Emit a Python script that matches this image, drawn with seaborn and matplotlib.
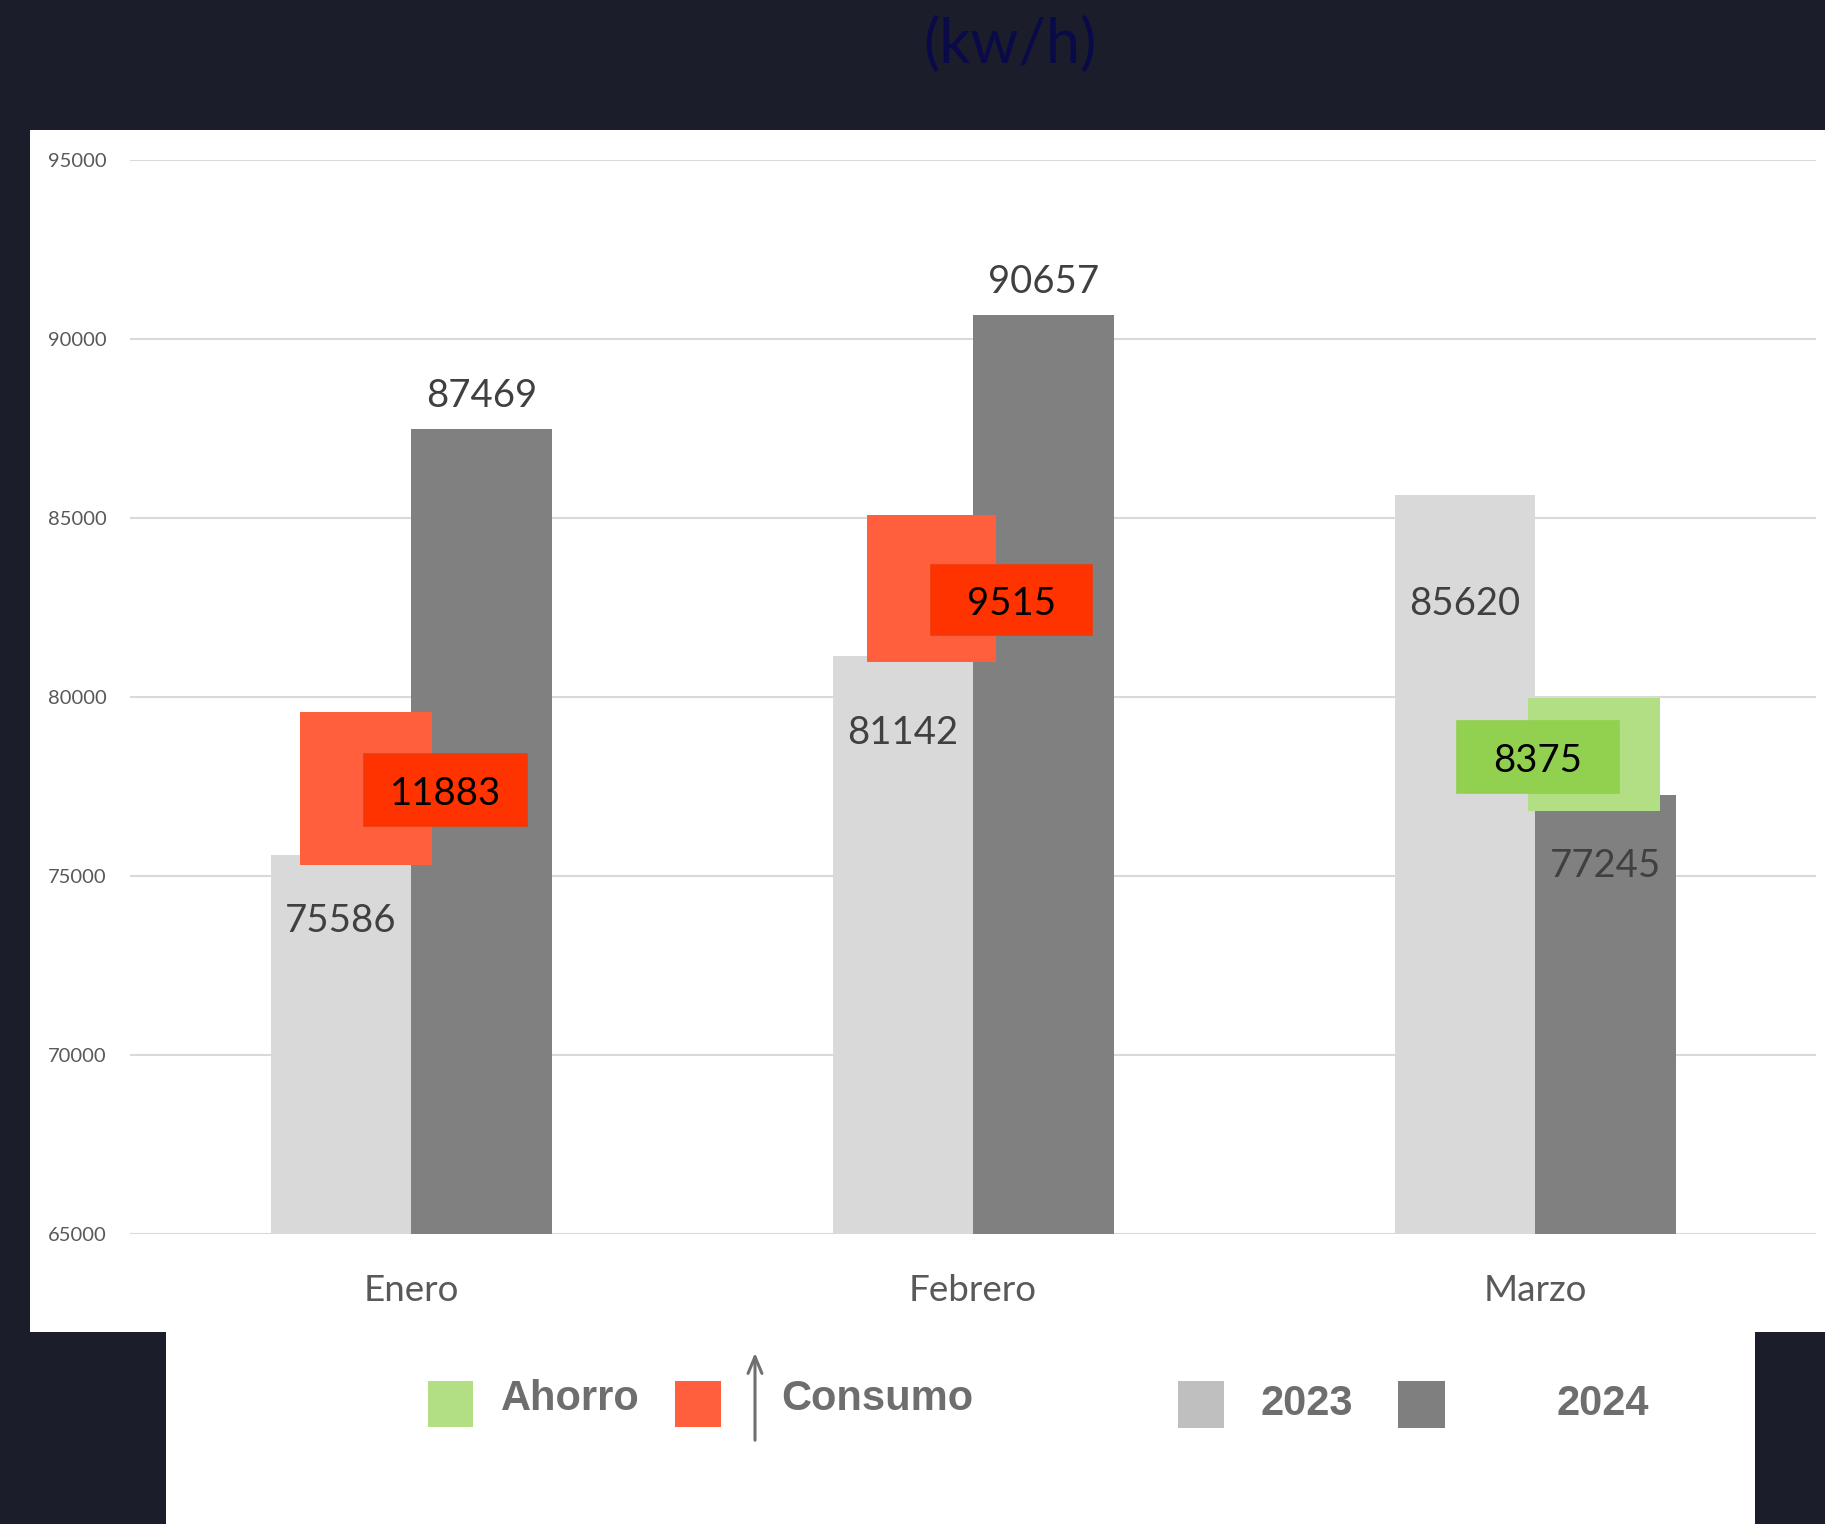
import matplotlib
matplotlib.use("Agg")
import matplotlib.pyplot as plt
from matplotlib.patches import Rectangle, FancyArrowPatch
import pandas as pd
import seaborn as sns

# --- datos ---
meses = ["Enero", "Febrero", "Marzo"]
anios = ["2023", "2024"]
consumo_2023 = [75586, 81142, 85620]
consumo_2024 = [87469, 90657, 77245]
diferencias = [11883, 9515, 8375]
tipo_diferencia = ["Consumo", "Consumo", "Ahorro"]

# --- estilo / layout ---
W, H, DPI = 1825, 1524, 100
FONDO = "#1b1d2b"
colores_barras = ["#d9d9d9", "#808080"]
colores_caja = {"Consumo": ("#ff5f3c", "#ff3300", "#f03a0a"),
                "Ahorro": ("#b3df84", "#92d050", "#92d050")}
# desplazamiento (pt) de cada etiqueta respecto al tope de su barra
desplaz = {"2023": [-48, -56, -78], "2024": [24, 24, -51]}
# cajas decorativas: (dx0, dx1, y0, y1) relativas al centro de la categoria
caja_grande = [(-0.197, 0.037, 75290, 79580),
               (-0.188, 0.041, 80974, 85065),
               (-0.012, 0.222, 76818, 79968)]
caja_chica = [(-0.084, 0.206, 76396, 78409),
              (-0.075, 0.211, 81721, 83669),
              (-0.139, 0.149, 77305, 79318)]

df = pd.DataFrame({
    "mes": meses * 2,
    "anio": [anios[0]] * len(meses) + [anios[1]] * len(meses),
    "kwh": consumo_2023 + consumo_2024,
})

sns.set_style("white")
plt.rcParams["font.family"] = ["Lato", "DejaVu Sans"]

fig = plt.figure(figsize=(W / DPI, H / DPI), dpi=DPI, facecolor=FONDO)


def fig_rect(x0, y0, x1, y1, **kw):
    """rectangulo en pixeles (origen arriba-izquierda) sobre la figura"""
    r = Rectangle((x0 / W, 1 - y1 / H), (x1 - x0) / W, (y1 - y0) / H,
                  transform=fig.transFigure, **kw)
    fig.add_artist(r)
    return r


# paneles blancos
fig_rect(30, 130, 1825, 1332, facecolor="white", edgecolor="none", zorder=-2)
fig_rect(166, 1332, 1755, 1524, facecolor="white", edgecolor="none", zorder=-2)

fig.text(1010 / W, 1 - 45 / H, "(kw/h)", ha="center", va="center",
         fontsize=44, color="#0a0a48", fontstretch="condensed")

ax = fig.add_axes([130 / W, 1 - 1233.7 / H, (1816 - 130) / W, (1233.7 - 159.5) / H])
ax.set_facecolor("white")

sns.barplot(data=df, x="mes", y="kwh", hue="anio", order=meses, hue_order=anios,
            palette=colores_barras, width=0.5, gap=0, saturation=1,
            linewidth=0, edgecolor="none", legend=False, ax=ax)

ax.set_ylim(65000, 95000)
ax.set_yticks(range(65000, 95001, 5000))
ax.set_xlim(-0.5, len(meses) - 0.5)
ax.yaxis.grid(True, color="#d9d9d9", lw=1.5)
ax.set_axisbelow(True)
for s in ax.spines.values():
    s.set_visible(False)
ax.set_xlabel("")
ax.set_ylabel("")
ax.tick_params(axis="y", length=0, pad=17, labelsize=14.5, labelcolor="#595959")
ax.tick_params(axis="x", length=0, pad=29, labelsize=26.5, labelcolor="#595959")

# etiquetas de valor
for cont, anio in zip(ax.containers, anios):
    for i, bar in enumerate(cont):
        x = bar.get_x() + bar.get_width() / 2
        y = bar.get_height()
        ax.annotate(f"{int(round(y))}", (x, y), xytext=(0, desplaz[anio][i]),
                    textcoords="offset points", ha="center", va="center",
                    fontsize=27.5, color="#404040", zorder=6)

# cajas de diferencia
for i, (val, tipo) in enumerate(zip(diferencias, tipo_diferencia)):
    c_g, c_c, c_e = colores_caja[tipo]
    gx0, gx1, gy0, gy1 = caja_grande[i]
    ax.add_patch(Rectangle((i + gx0, gy0), gx1 - gx0, gy1 - gy0,
                           facecolor=c_g, edgecolor="none", zorder=4))
    cx0, cx1, cy0, cy1 = caja_chica[i]
    ax.add_patch(Rectangle((i + cx0, cy0), cx1 - cx0, cy1 - cy0,
                           facecolor=c_c, edgecolor=c_e, lw=1.2, zorder=5))
    ax.annotate(f"{val}", (i + (cx0 + cx1) / 2, (cy0 + cy1) / 2),
                xytext=(0, -3), textcoords="offset points", ha="center",
                va="center", fontsize=27.5, color="black", zorder=6)

# leyenda manual
ley_font = dict(family=["Liberation Sans", "DejaVu Sans"], fontweight="bold",
                fontsize=30, color="#6e6e6e")
fig_rect(428, 1381, 473, 1427, facecolor=colores_caja["Ahorro"][0], edgecolor="none")
fig.text(501 / W, 1 - 1410 / H, "Ahorro", ha="left", va="baseline", **ley_font)
fig_rect(675, 1381, 721, 1427, facecolor=colores_caja["Consumo"][0], edgecolor="none")
fig.add_artist(FancyArrowPatch((755 / W, 1 - 1443 / H), (755 / W, 1 - 1350 / H),
                               transform=fig.transFigure, arrowstyle="->,head_length=12,head_width=5",
                               color="#707070", lw=2.2, mutation_scale=1))
fig.text(781 / W, 1 - 1410 / H, "Consumo", ha="left", va="baseline", **ley_font)
fig_rect(1178, 1381, 1224, 1428, facecolor="#bfbfbf", edgecolor="none")
fig.text(1261 / W, 1 - 1415 / H, anios[0], ha="left", va="baseline", **ley_font)
fig_rect(1398, 1381, 1445, 1428, facecolor="#7f7f7f", edgecolor="none")
fig.text(1556 / W, 1 - 1415 / H, anios[1], ha="left", va="baseline", **ley_font)

fig.savefig("out.png", dpi=DPI, facecolor=FONDO)
plt.close(fig)
